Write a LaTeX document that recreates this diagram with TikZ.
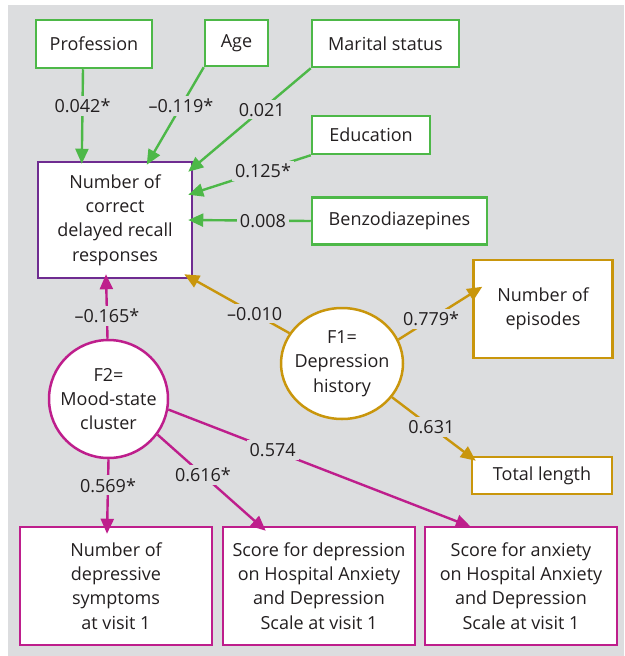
\documentclass[tikz,border=0pt]{standalone}
\usepackage{fontspec}
\setmainfont{Open Sans}
\usetikzlibrary{arrows.meta,shapes.geometric,calc}
\definecolor{bg}{HTML}{DCDDDF}
\definecolor{grn}{HTML}{4DB848}
\definecolor{pur}{HTML}{6F2C91}
\definecolor{mag}{HTML}{BE1E8C}
\definecolor{gld}{HTML}{C9960C}
\definecolor{txt}{HTML}{231F20}
\begin{document}
\begin{tikzpicture}[x=1pt,y=-1pt,
  every node/.style={text=txt,font=\fontsize{18}{24.3}\selectfont},
  box/.style={draw,line width=2.5pt,fill=white,align=center,inner sep=0pt},
  gbox/.style={box,draw=grn},
  pbox/.style={box,draw=pur},
  mbox/.style={box,draw=mag,minimum width=192pt,minimum height=118pt},
  obox/.style={box,draw=gld},
  gcirc/.style={box,shape=ellipse,inner xsep=-14pt,inner ysep=-6pt},
  conn/.style={line width=2.4pt,-{Triangle[length=15pt,width=13pt]}},
  lab/.style={fill=bg,inner sep=3pt}]
\useasboundingbox (0,0) rectangle (624,656);
\fill[bg] (8,5) rectangle (624,656);

% boxes
\node[gbox,minimum width=116pt,minimum height=48pt] (prof) at (94,44) {Profession};
\node[gbox,minimum width=63pt,minimum height=46pt] (age) at (236.5,43) {Age};
\node[gbox,minimum width=147pt,minimum height=47pt] (mar) at (385.5,43.5) {Marital status};
\node[gbox,minimum width=118pt,minimum height=38pt] (edu) at (371,135) {Education};
\node[gbox,minimum width=175pt,minimum height=47pt] (benz) at (399.5,221) {Benzodiazepines};
\node[pbox,minimum width=154pt,minimum height=116pt] (rec) at (115,220) {Number of\\correct\\delayed recall\\responses};
\node[obox,minimum width=139pt,minimum height=98pt] (epi) at (543,309) {Number of\\episodes};
\node[obox,minimum width=140pt,minimum height=37pt] (tot) at (542,475.5) {Total length};
\node[gcirc,draw=gld,minimum width=122pt,minimum height=111pt] (f1) at (342,363.5) {F1=\\Depression\\history};
\node[gcirc,draw=mag,minimum width=119pt,minimum height=118pt] (f2) at (108.5,399) {F2=\\Mood-state\\cluster};
\node[mbox] (b1) at (116,586) {Number of\\depressive\\symptoms\\at visit 1};
\node[mbox] (b2) at (319,586) {Score for depression\\on Hospital Anxiety\\and Depression\\Scale at visit 1};
\node[mbox] (b3) at (521,586) {Score for anxiety\\on Hospital Anxiety\\and Depression\\Scale at visit 1};

% green connectors
\draw[conn,grn] ($(prof.south)+(-11,0)$) -- node[lab,pos=0.39]{0.042*} ($(rec.north west)+(45,3)$);
\draw[conn,grn] (age.south west) -- node[lab,pos=0.40]{–0.119*} ($(rec.north west)+(110,4)$);
\draw[conn,grn] (mar.south west) -- node[lab,pos=0.40]{0.021} ($(rec.north east)+(-5,11)$);
\draw[conn,grn] (edu.south west) -- node[lab,pos=0.39]{0.125*} ($(rec.north east)+(-5,34)$);
\draw[conn,grn] (benz.west) -- node[lab,pos=0.39]{0.008} ($(rec.east)+(-5,0)$);

% gold connectors
\draw[conn,gld] (f1.150) -- node[lab,pos=0.33]{–0.010} ($(rec.south east)+(-9,-5)$);
\draw[conn,gld] (f1.23) -- node[lab,pos=0.39]{0.779*} ($(epi.north west)+(10,28)$);
\draw[conn,gld] (f1.-34) -- node[lab,pos=0.47]{0.631} ($(tot.north west)+(5,5)$);

% magenta connectors
\draw[conn,mag] ($(f2.north)+(-1,0)$) -- node[lab,pos=0.36]{–0.165*} ($(rec.south)+(-9,-5)$);
\draw[conn,mag] (f2.south) -- node[lab,pos=0.35]{0.569*} ($(b1.north)+(-9,8)$);
\draw[conn,mag] (f2.-36) -- node[lab,pos=0.42]{0.616*} ($(b2.north west)+(44,5)$);
\draw[conn,mag] (f2.-10) -- node[lab,pos=0.345]{0.574} ($(b3.north west)+(47,1)$);
\end{tikzpicture}
\end{document}
